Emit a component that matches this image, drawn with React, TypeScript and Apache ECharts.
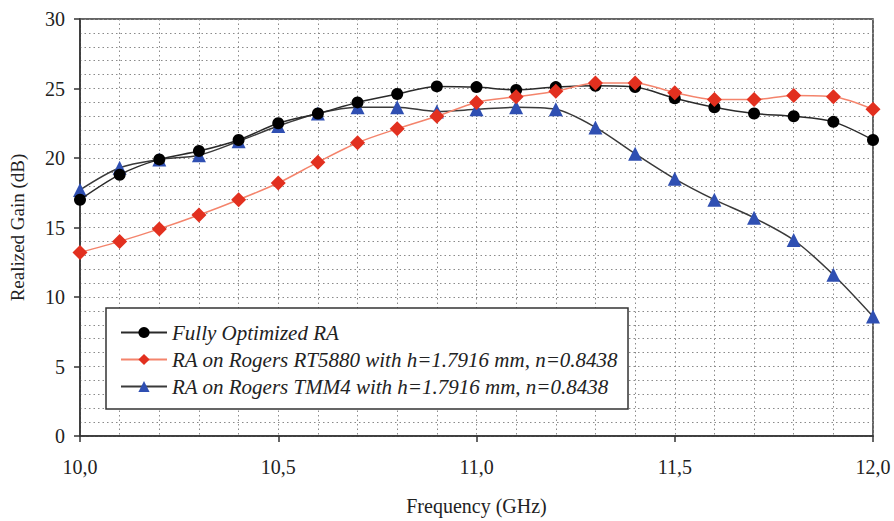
import { useEffect, useRef } from "react";
import * as echarts from "echarts";

// Frequency sweep (GHz)
const frequencies = [
  10.0, 10.1, 10.2, 10.3, 10.4, 10.5, 10.6, 10.7, 10.8, 10.9, 11.0,
  11.1, 11.2, 11.3, 11.4, 11.5, 11.6, 11.7, 11.8, 11.9, 12.0,
];

// Realized gain (dB)
const fullyOptimized = [
  17.0, 18.8, 19.9, 20.5, 21.3, 22.5, 23.2, 24.0, 24.6, 25.15, 25.1,
  24.9, 25.1, 25.2, 25.1, 24.3, 23.65, 23.2, 23.0, 22.6, 21.3,
];
const rt5880 = [
  13.2, 14.0, 14.9, 15.9, 17.0, 18.2, 19.7, 21.1, 22.1, 23.0, 24.0,
  24.4, 24.8, 25.4, 25.4, 24.7, 24.2, 24.2, 24.5, 24.4, 23.5,
];
const tmm4 = [
  17.7, 19.3, 19.9, 20.2, 21.2, 22.3, 23.2, 23.65, 23.65, 23.35, 23.5,
  23.65, 23.5, 22.2, 20.3, 18.5, 17.0, 15.7, 14.1, 11.6, 8.6,
];

const seriesNames = [
  "Fully Optimized RA",
  "RA on Rogers RT5880 with h=1.7916 mm, n=0.8438",
  "RA on Rogers TMM4 with h=1.7916 mm, n=0.8438",
];

const FONT = "'Liberation Serif', 'Times New Roman', serif";

const pairs = (ys: number[]) => frequencies.map((f, i) => [f, ys[i]]);

export default function App() {
  const ref = useRef<HTMLDivElement>(null);

  useEffect(() => {
    if (!ref.current) return;
    const chart = echarts.init(ref.current, undefined, { renderer: "svg" });

    const dotted = { color: "#8a8a8a", type: [1.5, 3] as number[], width: 1 };

    chart.setOption({
      animation: false,
      backgroundColor: "#ffffff",
      textStyle: { fontFamily: FONT },
      grid: {
        left: 79,
        right: 21,
        top: 19,
        bottom: 79,
        show: true,
        borderColor: "#333",
        borderWidth: 1.5,
        backgroundColor: "transparent",
      },
      legend: {
        orient: "vertical",
        left: 106,
        top: 308,
        padding: [14, 10, 12, 14],
        itemGap: 6,
        itemWidth: 46,
        itemHeight: 14,
        backgroundColor: "#ffffff",
        borderColor: "#333",
        borderWidth: 1.5,
        borderRadius: 0,
        textStyle: {
          fontFamily: FONT,
          fontStyle: "italic",
          fontSize: 21,
          color: "#222",
        },
        data: seriesNames,
      },
      xAxis: {
        type: "value",
        min: 10,
        max: 12,
        interval: 0.5,
        name: "Frequency (GHz)",
        nameLocation: "middle",
        nameGap: 60,
        nameTextStyle: { fontFamily: FONT, fontSize: 20, color: "#222" },
        axisLine: { show: true, lineStyle: { color: "#333", width: 1.5 } },
        axisTick: { show: true, inside: false, length: 6, lineStyle: { color: "#333", width: 1.5 } },
        axisLabel: {
          margin: 21,
          fontFamily: FONT,
          fontSize: 20,
          color: "#222",
          formatter: (v: number) => v.toFixed(1).replace(".", ","),
        },
        splitLine: { show: true, lineStyle: dotted },
        minorTick: { show: false, splitNumber: 5 },
        minorSplitLine: { show: true, lineStyle: dotted },
      },
      yAxis: {
        type: "value",
        min: 0,
        max: 30,
        interval: 5,
        name: "Realized Gain (dB)",
        nameLocation: "middle",
        nameGap: 53,
        nameTextStyle: { fontFamily: FONT, fontSize: 19, color: "#222" },
        axisLine: { show: true, lineStyle: { color: "#333", width: 1.5 } },
        axisTick: { show: true, inside: false, length: 6, lineStyle: { color: "#333", width: 1.5 } },
        axisLabel: { margin: 15, fontFamily: FONT, fontSize: 20, color: "#222" },
        splitLine: { show: true, lineStyle: dotted },
        minorTick: { show: false, splitNumber: 5 },
        minorSplitLine: { show: true, lineStyle: dotted },
      },
      series: [
        {
          name: seriesNames[0],
          type: "line",
          data: pairs(fullyOptimized),
          smooth: 0.3,
          symbol: "circle",
          symbolSize: 12,
          itemStyle: { color: "#000000" },
          lineStyle: { color: "#2a2a2a", width: 1.5 },
          z: 3,
        },
        {
          name: seriesNames[1],
          type: "line",
          data: pairs(rt5880),
          smooth: 0.3,
          symbol: "diamond",
          symbolSize: 15,
          itemStyle: { color: "#e2301f" },
          lineStyle: { color: "#f4846c", width: 1.5 },
          z: 4,
        },
        {
          name: seriesNames[2],
          type: "line",
          data: pairs(tmm4),
          smooth: 0.3,
          symbol: "triangle",
          symbolSize: 14,
          itemStyle: { color: "#2f4fb2" },
          lineStyle: { color: "#3a3a3a", width: 1.5 },
          z: 2,
        },
      ],
    });

    return () => chart.dispose();
  }, []);

  return (
    <div
      ref={ref}
      style={{ position: "fixed", left: 0, top: 0, width: 894, height: 521 }}
    />
  );
}
